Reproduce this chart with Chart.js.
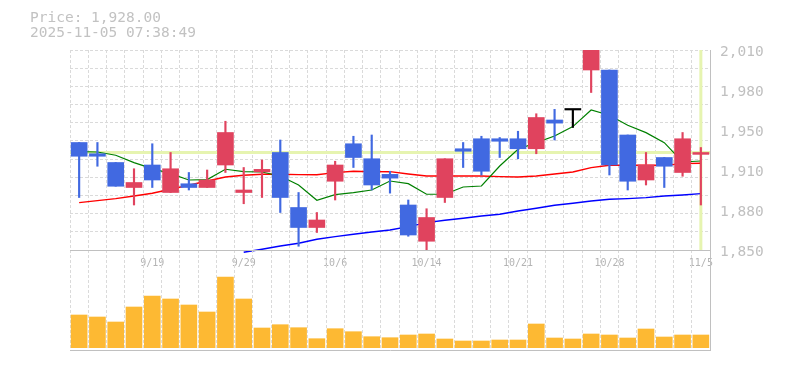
<!DOCTYPE html>
<html>
<head>
<meta charset="utf-8">
<script src="https://cdn.jsdelivr.net/npm/chart.js@4.4.1/dist/chart.umd.min.js"></script>
<style>
  html, body { margin: 0; padding: 0; background: #fff; }
  #wrap { position: relative; width: 785px; height: 370px; overflow: hidden; }
  canvas { position: absolute; left: 0; }
  #priceCanvas { top: 0; }
  #volCanvas { top: 240px; }
  #header {
    position: absolute; left: 30px; top: 10px; z-index: 2;
    font: 14.5px "DejaVu Sans Mono", monospace; line-height: 15px;
    color: #c2c2c2; white-space: pre;
  }
</style>
</head>
<body>
<div id="wrap">
  <canvas id="priceCanvas" width="785" height="370"></canvas>
  <canvas id="volCanvas" width="785" height="120"></canvas>
  <div id="header">Price: 1,928.00
2025-11-05 07:38:49</div>
</div>
<script>
// daily candles, 9/12 .. 11/5
const dates = ['9/12','9/16','9/17','9/18','9/19','9/22','9/24','9/25','9/26','9/29',
  '9/30','10/1','10/2','10/3','10/6','10/7','10/8','10/9','10/10','10/14',
  '10/15','10/16','10/17','10/20','10/21','10/22','10/23','10/24','10/27','10/28',
  '10/29','10/30','10/31','11/4','11/5'];
const shownDates = ['9/19','9/29','10/6','10/14','10/21','10/28','11/5'];

const open  = [1936, 1927, 1920, 1900, 1918, 1896, 1903, 1900, 1918, 1896,
  1912.5, 1928, 1884, 1868, 1905, 1935, 1923, 1910.5, 1886, 1857,
  1892, 1931, 1939, 1939, 1939, 1931, 1954, 1962, 1994, 1994,
  1942, 1906, 1924, 1912, 1926.5];
const close = [1925, 1925, 1901, 1904, 1906, 1915, 1900, 1906, 1944, 1898,
  1914.5, 1892, 1868, 1874, 1918, 1924, 1902, 1907.5, 1862, 1876,
  1923, 1929, 1913, 1937, 1931, 1956, 1951.5, 1962, 2010, 1918,
  1905, 1918, 1917, 1939, 1928];
const high  = [1936, 1936, 1920, 1915, 1935, 1928, 1912, 1914, 1953, 1916,
  1922, 1938, 1896, 1880, 1921, 1941, 1942, 1913, 1890, 1883,
  1923, 1936, 1941, 1940, 1945, 1959, 1962.5, 1962, 2010, 1994,
  1942, 1928, 1924, 1944, 1932];
const low   = [1892, 1917, 1901, 1886, 1900, 1896, 1898, 1900, 1912, 1887,
  1892, 1880, 1853, 1864, 1890, 1916, 1898, 1895.5, 1861, 1850,
  1888, 1916, 1910, 1924, 1923, 1927, 1938, 1948, 1976, 1910,
  1898, 1902, 1900, 1909, 1886];

// moving averages (short / mid / long)
const ma5  = [1928.7, 1928.4, 1925.8, 1919.9, 1915.1, 1911.1, 1906, 1906.3, 1914.6, 1912.7,
  1912.4, 1909.2, 1902, 1889.8, 1894.3, 1895.9, 1898, 1905.2, 1903.1, 1894.6,
  1894.6, 1900.4, 1901.2, 1917.2, 1930.6, 1935.9, 1941.2, 1948.7, 1962, 1957.8,
  1949.8, 1943.9, 1935.9, 1920.4, 1921.2];
const ma25 = [1887.9, 1889.5, 1891.1, 1893.2, 1895.4, 1898.6, 1901.8, 1905.2, 1908.4, 1909.8,
  1910.6, 1910.6, 1910.3, 1910.3, 1911.9, 1913, 1912.7, 1912.7, 1910.8, 1909.2,
  1909.2, 1909.2, 1909.2, 1908.7, 1908.4, 1909.2, 1910.8, 1912.4, 1915.9, 1917.8,
  1917.8, 1917.8, 1917.8, 1919.1, 1919.4];
const ma75 = [null, null, null, null, null, null, null, null, null, 1848.2,
  1850.6, 1853.2, 1855.4, 1858.6, 1860.7, 1862.6, 1864.4, 1866, 1868.7, 1871.9,
  1873.8, 1875.4, 1877.2, 1878.6, 1881.2, 1883.4, 1885.8, 1887.4, 1889.2, 1890.6,
  1891.1, 1891.9, 1893.2, 1894, 1895.1];

const volume = [32700, 30700, 25700, 40700, 51700, 48700, 42700, 35700, 70700, 48700,
  19700, 23000, 20000, 9000, 19000, 16000, 11000, 10000, 12700, 13700,
  8700, 6700, 6700, 7700, 7700, 23700, 9700, 8700, 13700, 12700,
  9700, 18700, 10700, 12700, 12700];

const lastPrice = 1928;
const priceTickLabels = ['1,850', '1,880', '1,910', '1,950', '1,980', '2,010'];

const MONO = '"DejaVu Sans Mono", monospace';
const gridColor = '#dadada';
const axisColor = '#c0c0c0';
const upColor = '#e0435e';
const downColor = '#4169e1';

const candleColors = open.map((o, i) => close[i] > o ? upColor : (close[i] < o ? downColor : '#000000'));
const bodies = open.map((o, i) => [o, close[i]]);
const wicks = low.map((l, i) => [l, high[i]]);

// light green marker for the latest price / latest candle
const priceLinePlugin = {
  id: 'priceLine',
  beforeDatasetsDraw(chart) {
    const { ctx, chartArea, scales } = chart;
    const y = scales.y.getPixelForValue(lastPrice);
    const x = scales.x.getPixelForValue(dates.length - 1);
    ctx.save();
    ctx.strokeStyle = '#e6f4b0';
    ctx.lineWidth = 3;
    ctx.beginPath();
    ctx.moveTo(chartArea.left, y);
    ctx.lineTo(chartArea.right, y);
    ctx.moveTo(x, chartArea.top);
    ctx.lineTo(x, chartArea.bottom);
    ctx.stroke();
    ctx.restore();
  }
};

new Chart(document.getElementById('priceCanvas'), {
  type: 'bar',
  data: {
    labels: dates,
    datasets: [
      { type: 'bar', data: bodies, backgroundColor: candleColors, barThickness: 16, minBarLength: 1.5, grouped: false, order: 0 },
      { type: 'bar', data: wicks, backgroundColor: candleColors, barThickness: 1.5, grouped: false, order: 1 },
      { type: 'line', data: ma5, borderColor: '#008000', borderWidth: 1.2, pointRadius: 0, order: 2 },
      { type: 'line', data: ma25, borderColor: '#ff0000', borderWidth: 1.5, pointRadius: 0, order: 3 },
      { type: 'line', data: ma75, borderColor: '#0000ff', borderWidth: 1.5, pointRadius: 0, order: 4, clip: false }
    ]
  },
  options: {
    responsive: false,
    animation: false,
    layout: { padding: { left: 70, top: 50, right: 0, bottom: 0 } },
    plugins: { legend: { display: false }, tooltip: { enabled: false } },
    scales: {
      x: {
        type: 'category',
        offset: true,
        grid: { offset: true, color: gridColor, drawTicks: false },
        border: { color: axisColor, dash: [3, 2] },
        ticks: {
          autoSkip: false, maxRotation: 0, padding: 7,
          color: '#b4b4b4', font: { family: MONO, size: 10 },
          callback: (v, i) => shownDates.includes(dates[i]) ? dates[i] : ''
        },
        afterFit: s => { s.height = 120; }
      },
      y: {
        position: 'right', min: 1850, max: 2010,
        ticks: { display: false, count: 12 },
        grid: { color: gridColor, drawTicks: false },
        border: { display: false, dash: [3, 2] },
        afterFit: s => { s.width = 0; }
      },
      yLabels: {
        position: 'right', min: 1850, max: 2010,
        ticks: {
          count: 6, padding: 10, labelOffset: 2,
          color: '#c0c0c0', font: { family: MONO, size: 14.5 },
          callback: (v, i) => priceTickLabels[i]
        },
        grid: { display: false, drawTicks: false },
        border: { color: axisColor },
        afterFit: s => { s.width = 75; }
      }
    }
  },
  plugins: [priceLinePlugin]
});

new Chart(document.getElementById('volCanvas'), {
  type: 'bar',
  data: {
    labels: dates,
    datasets: [{ data: volume, backgroundColor: '#fdb933', barThickness: 16 }]
  },
  options: {
    responsive: false,
    animation: false,
    layout: { padding: { left: 70, top: 10, right: 0, bottom: 0 } },
    plugins: { legend: { display: false }, tooltip: { enabled: false } },
    scales: {
      x: {
        type: 'category',
        offset: true,
        grid: { offset: true, color: gridColor, drawTicks: false },
        border: { color: axisColor, dash: [3, 2] },
        ticks: { display: false },
        afterFit: s => { s.height = 10; }
      },
      xTop: {
        type: 'category',
        position: 'top',
        offset: true,
        grid: { display: false, drawTicks: false },
        border: { color: axisColor },
        ticks: { display: false },
        afterFit: s => { s.height = 0; }
      },
      y: {
        position: 'right', min: -2300, max: 97700,
        ticks: { display: false },
        grid: { display: false, drawTicks: false },
        border: { color: axisColor },
        afterFit: s => { s.width = 75; }
      }
    }
  }
});
</script>
</body>
</html>
